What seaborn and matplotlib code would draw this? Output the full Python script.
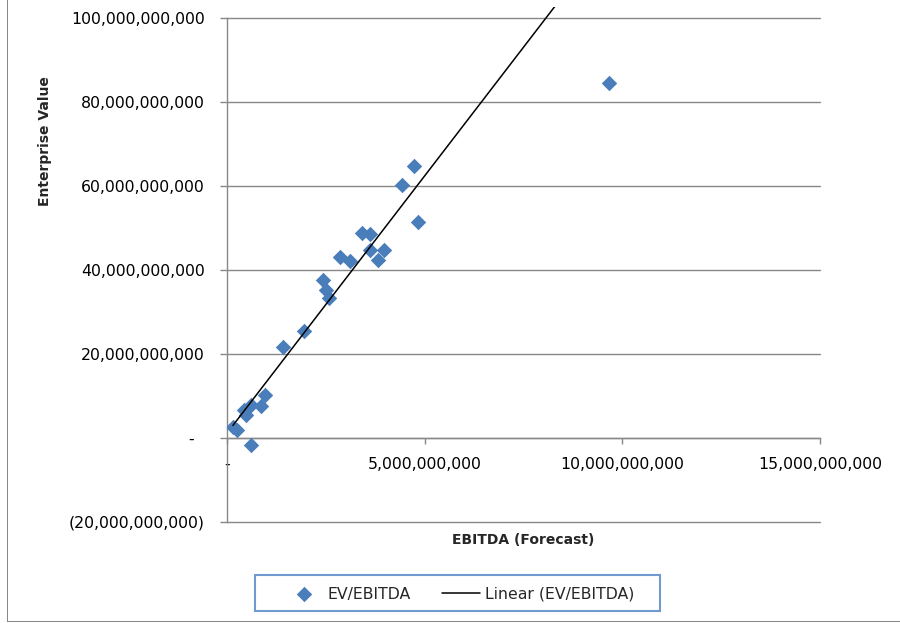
import matplotlib
matplotlib.use("Agg")
import matplotlib.pyplot as plt
import seaborn as sns
import numpy as np
from matplotlib.patches import Rectangle
from matplotlib.ticker import FuncFormatter

# EBITDA forecast vs enterprise value
ebitda = [0.15e9, 0.25e9, 0.43e9, 0.48e9, 0.61e9, 0.86e9, 0.96e9, 0.61e9,
          1.42e9, 1.95e9, 2.43e9, 2.50e9, 2.58e9, 2.86e9, 3.11e9, 3.42e9,
          3.62e9, 3.62e9, 3.82e9, 3.97e9, 4.43e9, 4.73e9, 4.83e9, 9.66e9]
ev = [2.6e9, 1.9e9, 6.7e9, 5.5e9, 7.9e9, 7.6e9, 10.2e9, -1.7e9,
      21.7e9, 25.5e9, 37.6e9, 35.2e9, 33.3e9, 43.1e9, 42.1e9, 48.8e9,
      48.6e9, 44.8e9, 42.4e9, 44.8e9, 60.2e9, 64.8e9, 51.4e9, 84.5e9]

# linear trend line as drawn in the chart
trend_slope = 12.25
trend_intercept = 1.15e9

x_ticks = [0, 5e9, 10e9, 15e9]
y_ticks = [-20e9, 0, 20e9, 40e9, 60e9, 80e9, 100e9]

sns.set_style("white")
plt.rcParams['font.family'] = ['DejaVu Sans']

W, H = 900, 623
fig = plt.figure(figsize=(9, 6.23), dpi=100)
ax = fig.add_axes([227 / W, 1 - 522 / H, (820 - 227) / W, (522 - 7) / H])

blue = '#4a7ebb'
grid = '#888888'

sns.scatterplot(x=ebitda, y=ev, marker='D', s=62, color=blue, linewidth=0,
                label='EV/EBITDA', ax=ax, zorder=3)
tx = np.array([min(ebitda), max(ebitda)])
sns.lineplot(x=tx, y=trend_slope * tx + trend_intercept, color='black',
             linewidth=1.1, label='Linear (EV/EBITDA)', ax=ax, zorder=4)

ax.set_xlim(0, 15e9)
ax.set_ylim(-20e9, 102.6e9)
ax.set_xticks(x_ticks)
ax.set_yticks(y_ticks)


def yfmt(v, pos):
    if v == 0:
        return '-  '
    if v < 0:
        return '({:,.0f})'.format(-v)
    return '{:,.0f}'.format(v)


def xfmt(v, pos):
    if v == 0:
        return '-'
    return '{:,.0f}'.format(v)


ax.yaxis.set_major_formatter(FuncFormatter(yfmt))
ax.xaxis.set_major_formatter(FuncFormatter(xfmt))

for v in y_ticks:
    ax.axhline(v, color=grid, linewidth=1.0, zorder=1, clip_on=False)

for s in ['top', 'right']:
    ax.spines[s].set_visible(False)
ax.spines['left'].set_bounds(-20e9, 100e9)
ax.spines['left'].set_color(grid)
ax.spines['bottom'].set_position(('data', 0))
ax.spines['bottom'].set_color(grid)
ax.spines['left'].set_linewidth(1.0)
ax.spines['bottom'].set_linewidth(1.0)

ax.tick_params(axis='y', direction='out', length=5, width=1.0, color=grid,
               pad=10.8, labelsize=11.3, labelcolor='black', left=True)
ax.tick_params(axis='x', direction='out', length=4.5, width=1.0, color=grid,
               pad=9, labelsize=11.3, labelcolor='black', bottom=True)

ax.set_xlabel('')
ax.set_ylabel('')
fig.text(45 / W, 1 - 141 / H, 'Enterprise Value', rotation=90, fontsize=10,
         fontweight='bold', ha='center', va='center')
fig.text(523 / W, 1 - 540 / H, 'EBITDA (Forecast)', fontsize=10,
         fontweight='bold', ha='center', va='center')

# legend at the bottom, with its own frame
handles, labels = ax.get_legend_handles_labels()
ax.get_legend().remove()
fig.legend(handles, labels, loc='center', bbox_to_anchor=(459.5 / W, 1 - 594 / H),
           ncol=2, frameon=False, fontsize=11.3, handlelength=2.4,
           handletextpad=0.3, columnspacing=2.0, borderpad=0)
fig.patches.append(Rectangle((255 / W, 1 - 611 / H), (660 - 255) / W, 36 / H,
                             transform=fig.transFigure, fill=False,
                             edgecolor='#6f9bd1', linewidth=1.5))

# outer chart border: thin filled strips along the left and bottom edges
fig.patches.append(Rectangle((7 / W, 1 / H), 1 / W, 622 / H,
                             transform=fig.transFigure, facecolor=grid,
                             edgecolor='none', linewidth=0))
fig.patches.append(Rectangle((7 / W, 1 / H), 893 / W, 1 / H,
                             transform=fig.transFigure, facecolor=grid,
                             edgecolor='none', linewidth=0))

fig.savefig('out.png', dpi=100)
